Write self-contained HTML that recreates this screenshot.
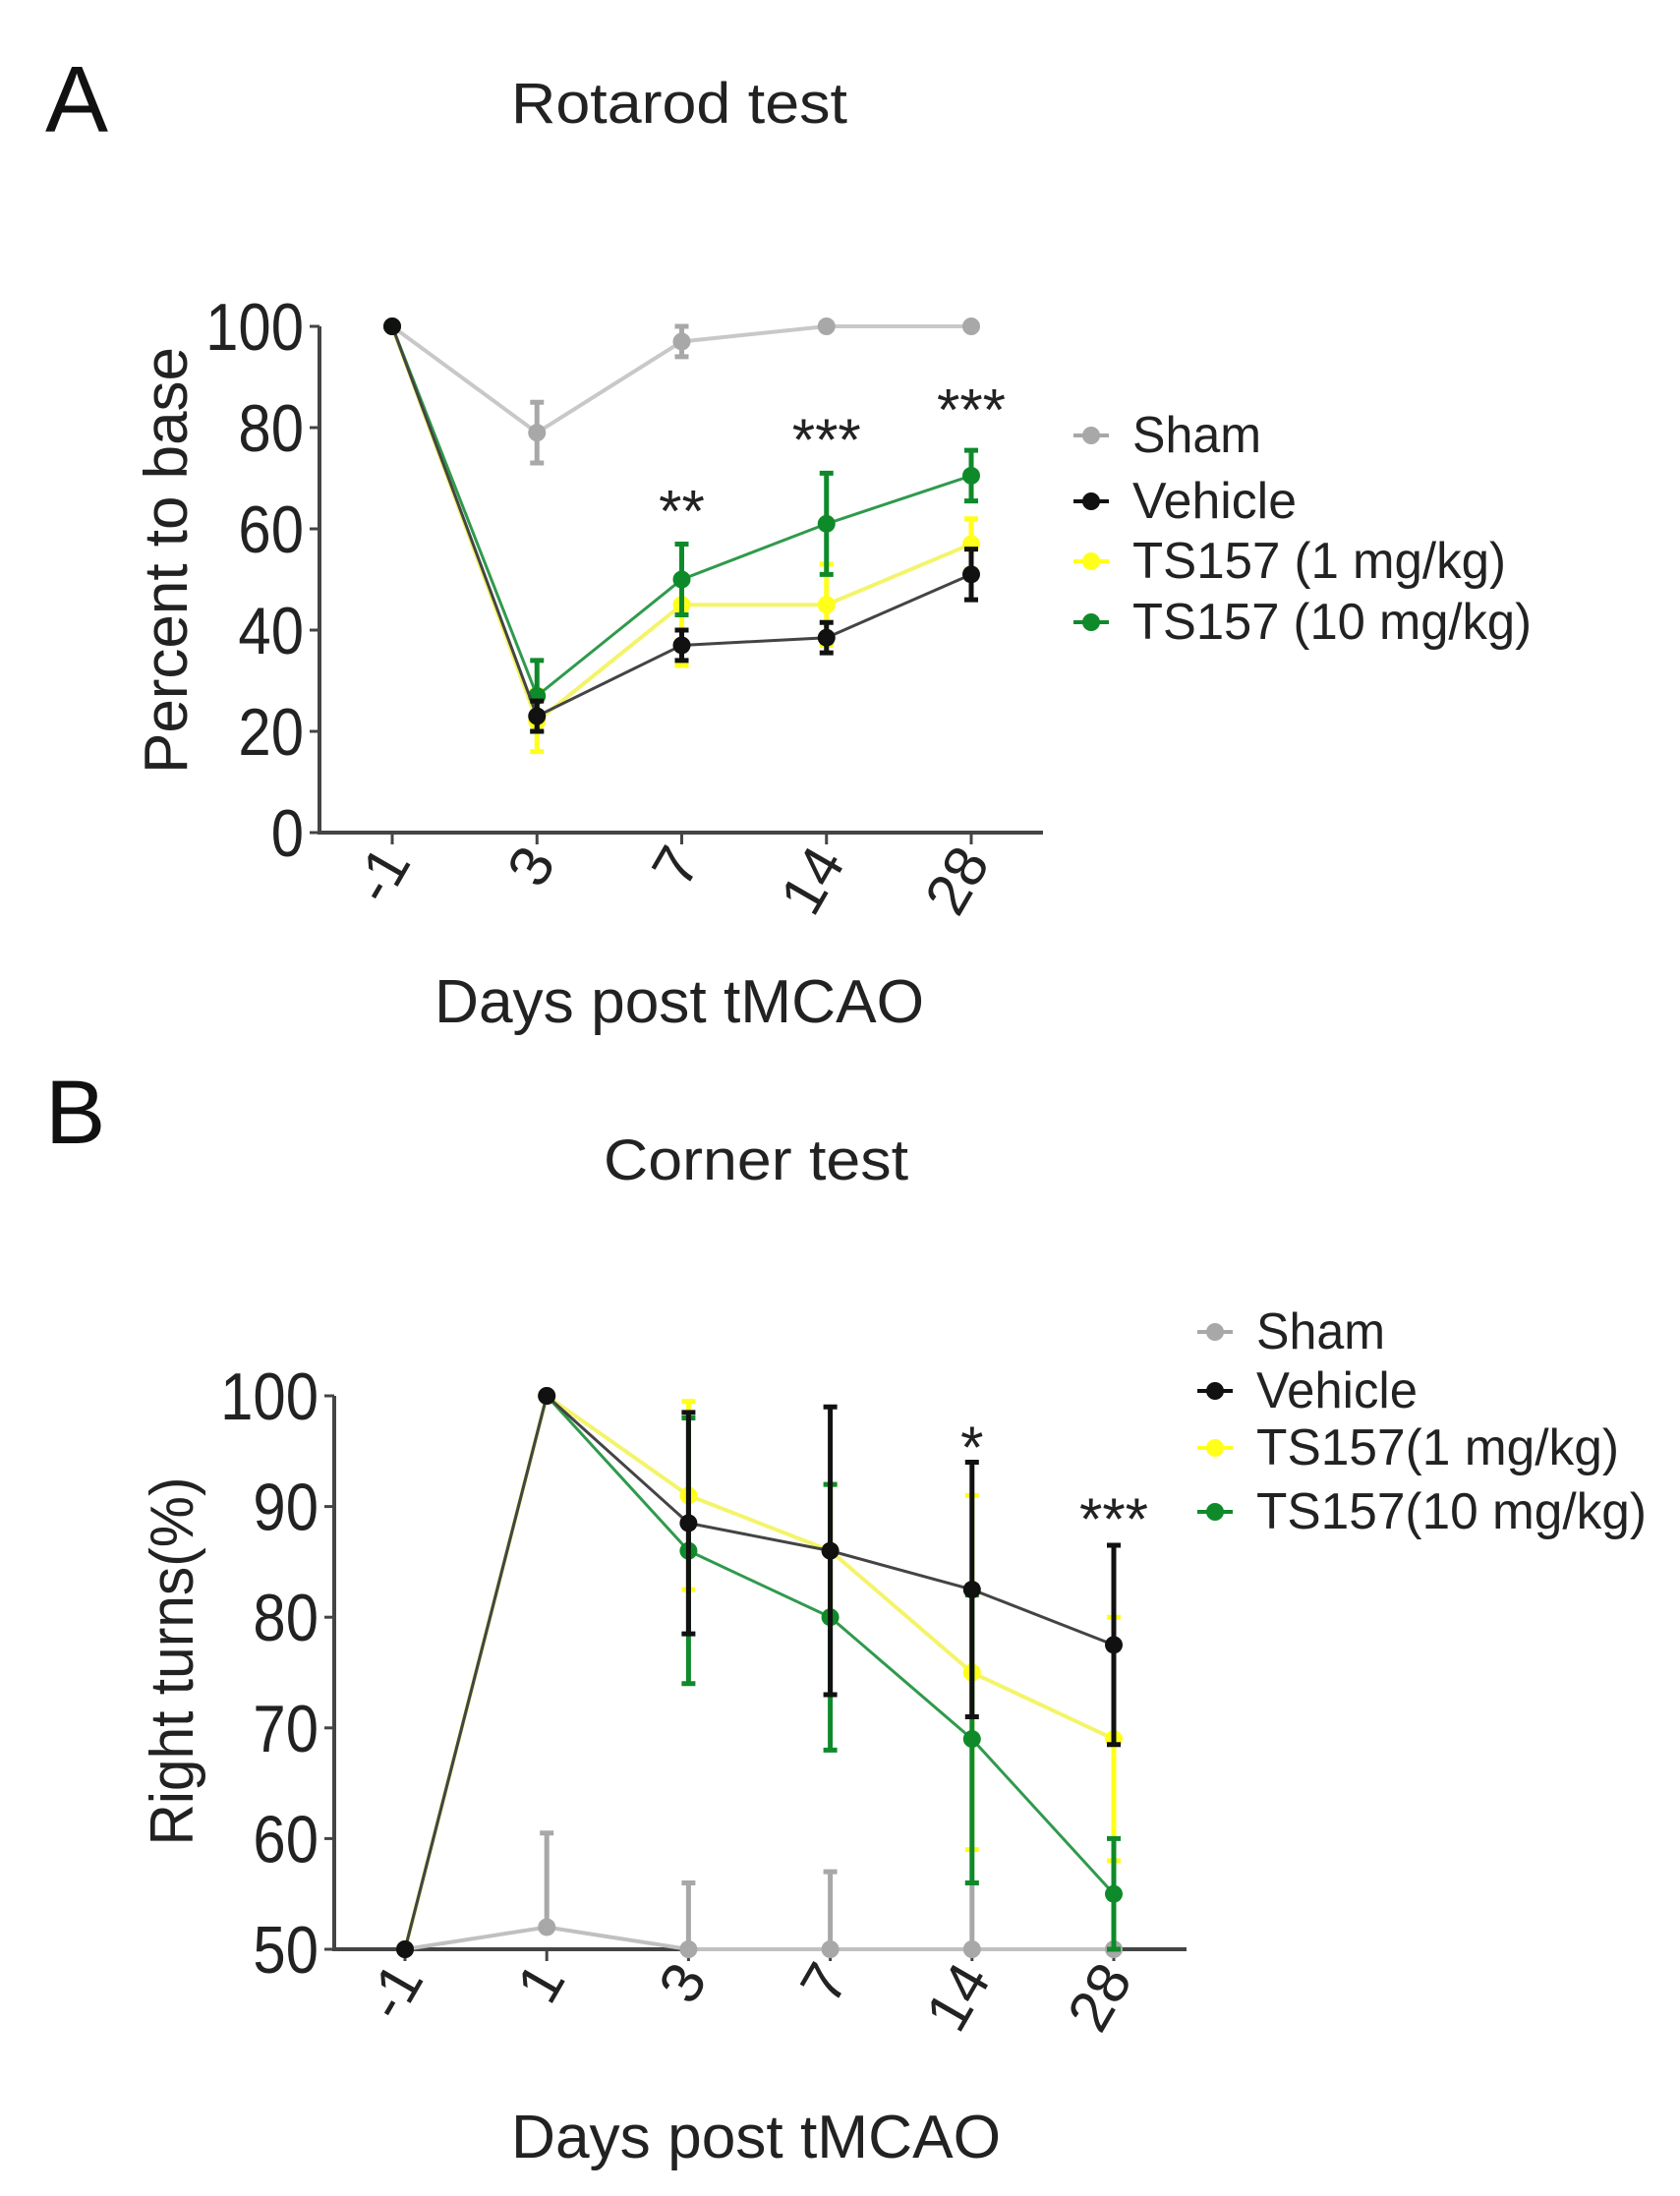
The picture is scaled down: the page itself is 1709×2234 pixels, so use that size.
<!DOCTYPE html>
<html><head><meta charset="utf-8">
<style>
html,body{margin:0;padding:0;background:#fff;}
svg{display:block;font-family:"Liberation Sans",Arial,sans-serif;}
</style></head>
<body>
<svg id="fig" width="1709" height="2234" viewBox="0 0 1709 2234">
<g id="panelA">
<text x="46" y="134" font-size="96" fill="#111">A</text>
<text x="691" y="125" font-size="58" fill="#222" text-anchor="middle" textLength="342" lengthAdjust="spacingAndGlyphs">Rotarod test</text>
<text transform="translate(190,570) rotate(-90)" font-size="62" fill="#222" text-anchor="middle" textLength="434" lengthAdjust="spacingAndGlyphs">Percent to base</text>
<text x="691" y="1040" font-size="62" fill="#222" text-anchor="middle" textLength="498" lengthAdjust="spacingAndGlyphs">Days post tMCAO</text>
</g>
<g id="panelB">
<text x="46" y="1163" font-size="92" fill="#111">B</text>
<text x="769" y="1200" font-size="58" fill="#222" text-anchor="middle" textLength="310" lengthAdjust="spacingAndGlyphs">Corner test</text>
<text transform="translate(196,1690) rotate(-90)" font-size="62" fill="#222" text-anchor="middle" textLength="375" lengthAdjust="spacingAndGlyphs">Right turns(%)</text>
<text x="769" y="2195" font-size="62" fill="#222" text-anchor="middle" textLength="498" lengthAdjust="spacingAndGlyphs">Days post tMCAO</text>
</g>
</svg>
<script>
// Panel A data
const catsA = ['-1','3','7','14','28'];
const yTicksA = [0,20,40,60,80,100];
const shamA = [100,79,97,100,100];
const shamErrA = [0,6,3,0,0];
const vehA = [100,23,37,38.5,51];
const vehErrA = [0,3,3,3,5];
const ts1A = [100,22,45,45,57];
const ts1ErrA = [0,6,12,8,5];
const ts10A = [100,27,50,61,70.5];
const ts10ErrA = [0,7,7,10,5];
const starsA = ['','','**','***','***'];
const starYA = [0,0,65,79,85];
// Panel B data
const catsB = ['-1','1','3','7','14','28'];
const yTicksB = [50,60,70,80,90,100];
const shamB = [50,52,50,50,50,50];
const shamErrB = [0,8.5,6,7,6,0];
const vehB = [50,100,88.5,86,82.5,77.5];
const vehErrB = [0,0,10,13,11.5,9];
const ts1B = [50,100,91,86,75,69];
const ts1ErrB = [0,0,8.5,6,16,11];
const ts10B = [50,100,86,80,69,55];
const ts10ErrB = [0,0,12,12,13,5];
const starsB = ['','','','','*','***'];
const starYB = [0,0,0,0,96,89.5];

const NS='http://www.w3.org/2000/svg';
const svg=document.getElementById('fig');
function mk(tag,attrs,parent){const e=document.createElementNS(NS,tag);for(const k in attrs)e.setAttribute(k,attrs[k]);(parent||svg).appendChild(e);return e;}

function chart(o){
  const g=document.getElementById(o.gid);
  const xs=i=>o.x0+i*(o.x1-o.x0)/(o.cats.length-1);
  const ys=v=>o.yBot+(v-o.ymin)/(o.ymax-o.ymin)*(o.yTop-o.yBot);
  const ax=mk('path',{d:`M${o.axX},${o.yTop} L${o.axX},${o.yBot} L${o.axEnd},${o.yBot}`,fill:'none',stroke:'#444','stroke-width':4},g);
  
  
  o.yticks.forEach(t=>{
    const y=ys(t);
    const tk=mk('line',{x1:o.axX-10,x2:o.axX,y1:y,y2:y,stroke:'#444','stroke-width':3},g);
    
    
    const tl=mk('text',{x:o.axX-16,y:y+24,'font-size':68,'text-anchor':'end',fill:'#222',transform:`translate(${(o.axX-16)*0.12},0) scale(0.88,1)`},g);
    tl.textContent=t;
    
    
  });
  o.cats.forEach((c,i)=>{
    const x=xs(i);
    const tk=mk('line',{x1:x,x2:x,y1:o.yBot,y2:o.yBot+12,stroke:'#444','stroke-width':3},g);
    
    
    const tl=mk('text',{x:0,y:0,'font-size':60,'text-anchor':'end',fill:'#222',transform:`translate(${x+20},${o.yBot+30}) rotate(-60)`},g);
    tl.textContent=c;
    
    
  });
  o.series.forEach(s=>{
    const pts=s.v.map((v,i)=>xs(i)+','+ys(v)).join(' ');
    const ln=mk('polyline',{points:pts,fill:'none',stroke:s.line,'stroke-width':s.w||3},g);
    
    
    s.v.forEach((v,i)=>{
      const e=s.e[i];
      if(e>0){
        const lo=s.upOnly?v:v-e;
        const eb=mk('path',{d:`M${xs(i)},${ys(v+e)} L${xs(i)},${ys(Math.max(lo,o.ymin))} M${xs(i)-7},${ys(v+e)} L${xs(i)+7},${ys(v+e)}`+(s.upOnly?'':` M${xs(i)-7},${ys(lo)} L${xs(i)+7},${ys(lo)}`),stroke:s.mk,'stroke-width':5,fill:'none'},g);
        
        
      }
      const m=mk('circle',{cx:xs(i),cy:ys(v),r:9,fill:s.mk},g);
      
      
    });
  });
  o.stars.forEach((st,i)=>{
    if(!st)return;
    const t=mk('text',{x:xs(i),y:ys(o.starY[i])+28,'font-size':60,'text-anchor':'middle',fill:'#222'},g);
    t.textContent=st;
    
    
  });
  o.legend.forEach((L,k)=>{
    const y=o.legY[k];
    const ll=mk('line',{x1:o.legX-18,x2:o.legX+18,y1:y-17,y2:y-17,stroke:L.c,'stroke-width':4},g);
    
    
    const lc=mk('circle',{cx:o.legX,cy:y-17,r:9,fill:L.c},g);
    
    
    const lt=mk('text',{x:o.legX+42,y:y,'font-size':52,fill:'#222',textLength:L.w,lengthAdjust:'spacingAndGlyphs'},g);
    lt.textContent=L.t;
    
    
  });
}
const GRAY='#a8a8a8',BLK='#111',YEL='#ffff1a',GRN='#0f8a2a';
chart({gid:'panelA',cats:catsA,yticks:yTicksA,ymin:0,ymax:100,x0:399,x1:988,axX:325,axEnd:1061,yTop:332,yBot:847,
  series:[
   {name:'sham',v:shamA,e:shamErrA,line:'#c8c8c8',mk:GRAY,w:4},
   {name:'ts157-1mg',v:ts1A,e:ts1ErrA,line:'#f4f46a',mk:YEL,w:4},
   {name:'ts157-10mg',v:ts10A,e:ts10ErrA,line:'#2f9a4c',mk:GRN,w:3},
   {name:'vehicle',v:vehA,e:vehErrA,line:'#444',mk:BLK,w:3}],
  stars:starsA,starY:starYA,legX:1110,legY:[460,527,588,650],
  legend:[{t:'Sham',c:GRAY,w:131},{t:'Vehicle',c:BLK,w:167},{t:'TS157 (1 mg/kg)',c:YEL,w:380},{t:'TS157 (10 mg/kg)',c:GRN,w:406}]});
chart({gid:'panelB',cats:catsB,yticks:yTicksB,ymin:50,ymax:100,x0:412,x1:1133,axX:340,axEnd:1207,yTop:1420,yBot:1983,
  series:[
   {name:'sham',v:shamB,e:shamErrB,line:'#c0c0c0',mk:GRAY,w:4,upOnly:true},
   {name:'ts157-1mg',v:ts1B,e:ts1ErrB,line:'#f4f46a',mk:YEL,w:4},
   {name:'ts157-10mg',v:ts10B,e:ts10ErrB,line:'#2f9a4c',mk:GRN,w:3},
   {name:'vehicle',v:vehB,e:vehErrB,line:'#444',mk:BLK,w:3}],
  stars:starsB,starY:starYB,legX:1236,legY:[1372,1432,1490,1555],
  legend:[{t:'Sham',c:GRAY,w:131},{t:'Vehicle',c:BLK,w:164},{t:'TS157(1 mg/kg)',c:YEL,w:369},{t:'TS157(10 mg/kg)',c:GRN,w:397}]});
</script>
</body></html>
